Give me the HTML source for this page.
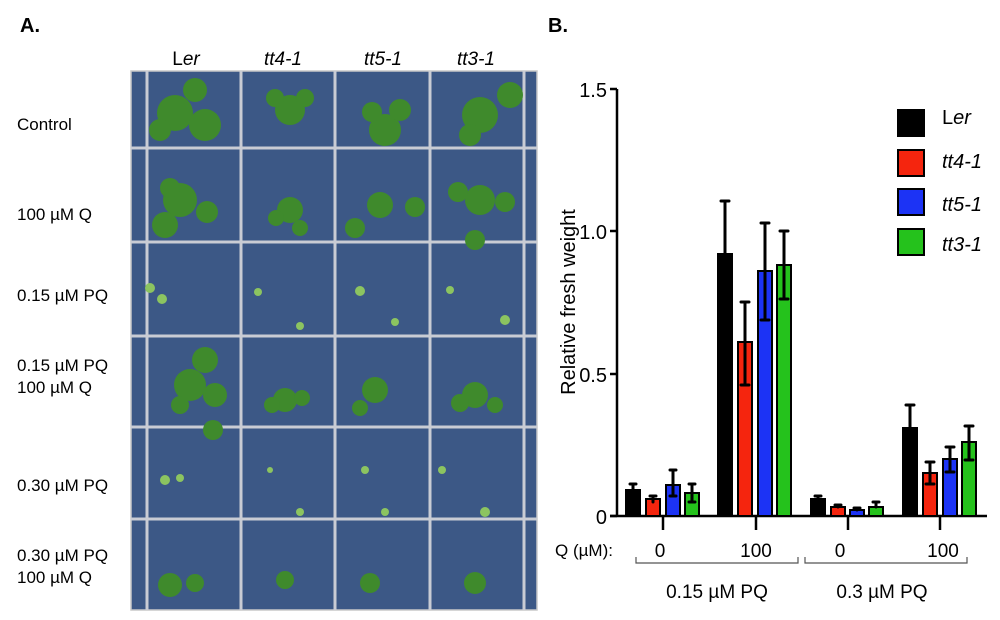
<!DOCTYPE html>
<html><head><meta charset="utf-8"><style>
html,body{margin:0;padding:0;background:#fff;}
svg{display:block;font-family:"Liberation Sans",Arial,sans-serif;}
</style></head><body>
<svg width="1000" height="620" viewBox="0 0 1000 620">
<text x="20" y="32" font-size="20" font-weight="bold">A.</text>
<text x="548" y="32" font-size="20" font-weight="bold">B.</text>
<g font-size="19" text-anchor="middle">
<text x="186" y="65">L<tspan font-style="italic">er</tspan></text>
<text x="283" y="65" font-style="italic">tt4-1</text>
<text x="383" y="65" font-style="italic">tt5-1</text>
<text x="476" y="65" font-style="italic">tt3-1</text>
</g>
<g font-size="17">
<text x="17" y="130">Control</text>
<text x="17" y="220">100 µM Q</text>
<text x="17" y="301">0.15 µM PQ</text>
<text x="17" y="371">0.15 µM PQ</text>
<text x="17" y="393">100 µM Q</text>
<text x="17" y="491">0.30 µM PQ</text>
<text x="17" y="561">0.30 µM PQ</text>
<text x="17" y="583">100 µM Q</text>
</g>
<rect x="131" y="71" width="406" height="539" fill="#3c5886" stroke="#c8c8c8" stroke-width="1.5"/>
<g stroke="#c9ccd4" stroke-width="3">
<line x1="147" y1="71" x2="147" y2="610"/><line x1="241" y1="71" x2="241" y2="610"/>
<line x1="335" y1="71" x2="335" y2="610"/><line x1="430" y1="71" x2="430" y2="610"/>
<line x1="524" y1="71" x2="524" y2="610"/>
<line x1="131" y1="148" x2="537" y2="148"/><line x1="131" y1="242" x2="537" y2="242"/>
<line x1="131" y1="336" x2="537" y2="336"/><line x1="131" y1="427" x2="537" y2="427"/>
<line x1="131" y1="519" x2="537" y2="519"/>
</g>
<g fill="#3f8a2c">
<circle cx="175" cy="113" r="18"/><circle cx="205" cy="125" r="16"/><circle cx="195" cy="90" r="12"/><circle cx="160" cy="130" r="11"/>
<circle cx="290" cy="110" r="15"/><circle cx="275" cy="98" r="9"/><circle cx="305" cy="98" r="9"/>
<circle cx="385" cy="130" r="16"/><circle cx="400" cy="110" r="11"/><circle cx="372" cy="112" r="10"/>
<circle cx="480" cy="115" r="18"/><circle cx="510" cy="95" r="13"/><circle cx="470" cy="135" r="11"/>
<circle cx="180" cy="200" r="17"/><circle cx="165" cy="225" r="13"/><circle cx="207" cy="212" r="11"/><circle cx="170" cy="188" r="10"/>
<circle cx="290" cy="210" r="13"/><circle cx="300" cy="228" r="8"/><circle cx="276" cy="218" r="8"/>
<circle cx="380" cy="205" r="13"/><circle cx="355" cy="228" r="10"/><circle cx="415" cy="207" r="10"/>
<circle cx="480" cy="200" r="15"/><circle cx="505" cy="202" r="10"/><circle cx="475" cy="240" r="10"/><circle cx="458" cy="192" r="10"/>
<circle cx="205" cy="360" r="13"/><circle cx="190" cy="385" r="16"/><circle cx="215" cy="395" r="12"/><circle cx="213" cy="430" r="10"/><circle cx="180" cy="405" r="9"/>
<circle cx="285" cy="400" r="12"/><circle cx="272" cy="405" r="8"/><circle cx="302" cy="398" r="8"/>
<circle cx="375" cy="390" r="13"/><circle cx="360" cy="408" r="8"/>
<circle cx="475" cy="395" r="13"/><circle cx="460" cy="403" r="9"/><circle cx="495" cy="405" r="8"/>
<circle cx="170" cy="585" r="12"/><circle cx="195" cy="583" r="9"/>
<circle cx="285" cy="580" r="9"/><circle cx="370" cy="583" r="10"/><circle cx="475" cy="583" r="11"/>
</g>
<g fill="#8cc460">
<circle cx="150" cy="288" r="5"/><circle cx="162" cy="299" r="5"/><circle cx="258" cy="292" r="4"/><circle cx="300" cy="326" r="4"/>
<circle cx="360" cy="291" r="5"/><circle cx="395" cy="322" r="4"/><circle cx="450" cy="290" r="4"/><circle cx="505" cy="320" r="5"/>
<circle cx="165" cy="480" r="5"/><circle cx="180" cy="478" r="4"/><circle cx="270" cy="470" r="3"/><circle cx="300" cy="512" r="4"/>
<circle cx="365" cy="470" r="4"/><circle cx="385" cy="512" r="4"/><circle cx="442" cy="470" r="4"/><circle cx="485" cy="512" r="5"/>
</g>
<g stroke="#000" stroke-width="2.5" fill="none">
<line x1="617" y1="89" x2="617" y2="517"/>
<line x1="610" y1="89" x2="617" y2="89"/><line x1="610" y1="231" x2="617" y2="231"/>
<line x1="610" y1="374" x2="617" y2="374"/><line x1="610" y1="516" x2="617" y2="516"/>
<line x1="610" y1="516" x2="987" y2="516"/>
<line x1="663" y1="516" x2="663" y2="530"/><line x1="756" y1="516" x2="756" y2="530"/>
<line x1="848" y1="516" x2="848" y2="530"/><line x1="940" y1="516" x2="940" y2="530"/>
</g>
<g font-size="20" text-anchor="end">
<text x="607" y="97">1.5</text><text x="607" y="239">1.0</text><text x="607" y="382">0.5</text><text x="607" y="524">0</text>
</g>
<text transform="translate(575,302) rotate(-90)" font-size="20" text-anchor="middle">Relative fresh weight</text>
<g stroke="#000" stroke-width="2">
<rect x="626" y="490" width="14" height="26" fill="#000"/>
<rect x="646" y="499" width="14" height="17" fill="#f5250e"/>
<rect x="666" y="485" width="14" height="31" fill="#1c33f5"/>
<rect x="685" y="493" width="14" height="23" fill="#25c21c"/>
<rect x="718" y="254" width="14" height="262" fill="#000"/>
<rect x="738" y="342" width="14" height="174" fill="#f5250e"/>
<rect x="758" y="271" width="14" height="245" fill="#1c33f5"/>
<rect x="777" y="265" width="14" height="251" fill="#25c21c"/>
<rect x="811" y="499" width="14" height="17" fill="#000"/>
<rect x="831" y="507" width="14" height="9" fill="#f5250e"/>
<rect x="850" y="510" width="14" height="6" fill="#1c33f5"/>
<rect x="869" y="507" width="14" height="9" fill="#25c21c"/>
<rect x="903" y="428" width="14" height="88" fill="#000"/>
<rect x="923" y="473" width="14" height="43" fill="#f5250e"/>
<rect x="943" y="459" width="14" height="57" fill="#1c33f5"/>
<rect x="962" y="442" width="14" height="74" fill="#25c21c"/>
</g>
<g stroke="#000" stroke-width="3" fill="none" stroke-linecap="round">
<path d="M633 490V484M630 484H636"/>
<path d="M653 499V496M650 496H656M653 499V502"/>
<path d="M673 485V470M670 470H676M673 485V496M670 496H676"/>
<path d="M692 493V484M689 484H695M692 493V502M689 502H695"/>
<path d="M725 254V201M721 201H729"/>
<path d="M745 342V302M741 302H749M745 342V385M741 385H749"/>
<path d="M765 271V223M761 223H769M765 271V320M761 320H769"/>
<path d="M784 265V231M780 231H788M784 265V299M780 299H788"/>
<path d="M818 499V496M815 496H821"/>
<path d="M838 507V505M835 505H841"/>
<path d="M857 510V508M854 508H860"/>
<path d="M876 507V502M873 502H879"/>
<path d="M910 428V405M906 405H914"/>
<path d="M930 473V462M926 462H934M930 473V484M926 484H934"/>
<path d="M950 459V447M946 447H954M950 459V472M946 472H954"/>
<path d="M969 442V426M965 426H973M969 442V460M965 460H973"/>
</g>
<g stroke="#000" stroke-width="2">
<rect x="898" y="110" width="26" height="26" fill="#000"/>
<rect x="898" y="150" width="26" height="26" fill="#f5250e"/>
<rect x="898" y="189" width="26" height="26" fill="#1c33f5"/>
<rect x="898" y="229" width="26" height="26" fill="#25c21c"/>
</g>
<g font-size="20">
<text x="942" y="124">L<tspan font-style="italic">er</tspan></text>
<text x="942" y="168" font-style="italic">tt4-1</text>
<text x="942" y="211" font-style="italic">tt5-1</text>
<text x="942" y="251" font-style="italic">tt3-1</text>
</g>
<text x="555" y="556" font-size="17">Q  (µM):</text>
<g font-size="19" text-anchor="middle">
<text x="660" y="557">0</text><text x="756" y="557">100</text>
<text x="840" y="557">0</text><text x="943" y="557">100</text>
</g>
<g stroke="#555" stroke-width="1.2" fill="none">
<path d="M636 557V563H798V557"/>
<path d="M805 557V563H967V557"/>
</g>
<g font-size="19" text-anchor="middle">
<text x="717" y="598">0.15 µM PQ</text>
<text x="882" y="598">0.3 µM PQ</text>
</g>
</svg>
</body></html>
